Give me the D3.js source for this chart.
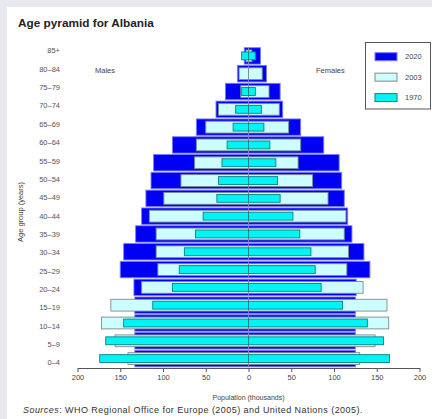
<!DOCTYPE html>
<html>
<head>
<meta charset="utf-8">
<script src="https://d3js.org/d3.v7.min.js"></script>
<style>
  body { margin: 0; background: #e6eaee; }
  text { font-family: "Liberation Sans", Arial, sans-serif; }
</style>
</head>
<body>
<div id="chart"></div>
<script>
// age groups, youngest first
const ageGroups = ['0–4', '5–9', '10–14', '15–19', '20–24', '25–29', '30–34', '35–39', '40–44',
  '45–49', '50–54', '55–59', '60–64', '65–69', '70–74', '75–79', '80–84', '85+'];

// population in thousands
const males2020   = [133, 133, 133, 133, 134, 150, 146, 132, 125, 120, 114, 111, 89, 61, 38, 27, 13, 5];
const females2020 = [125, 125, 125, 125, 126, 142, 135, 121, 116, 112, 109, 106, 88, 61, 40, 37, 21, 14];
const males2003   = [141, 156, 172, 161, 125, 106, 108, 108, 116, 99, 79, 63, 61, 50, 35, 9, 11, 3];
const females2003 = [130, 148, 164, 162, 134, 115, 117, 112, 114, 93, 75, 58, 61, 47, 36, 24, 16, 4];
const males1970   = [174, 167, 146, 112, 89, 81, 75, 62, 53, 37, 35, 31, 25, 18, 15, 8, 0, 8];
const females1970 = [165, 158, 139, 110, 85, 78, 73, 60, 52, 37, 34, 32, 25, 18, 15, 8, 0, 8];

const xTicks = [-200, -150, -100, -50, 0, 50, 100, 150, 200];

const series = [
  { year: '2020', males: males2020, females: females2020, fill: '#0000f2', stroke: '#7b7bff', frac: 1 },
  { year: '2003', males: males2003, females: females2003, fill: '#ccfdff', stroke: '#7f8a8c', frac: 0.72 },
  { year: '1970', males: males1970, females: females1970, fill: '#00f4f4', stroke: '#0f7f7f', frac: 0.48 }
];

const width = 432;
const height = 419;

const svg = d3.select('#chart')
  .append('svg')
  .attr('width', width)
  .attr('height', height);

// white panel on the grey page
svg.append('rect')
  .attr('x', 7).attr('y', 7)
  .attr('width', width - 7).attr('height', height - 7)
  .attr('fill', '#fff');

const x = d3.scaleLinear().domain([-200, 200]).range([77.5, 419.5]);
const y = d3.scaleBand()
  .domain(ageGroups.slice().reverse())
  .range([47, 367.5])
  .paddingInner(0.08)
  .paddingOuter(0.04);

// bars: 2020 at the back, 1970 in front
series.forEach(s => {
  const h = y.bandwidth() * s.frac;
  const rows = [];
  ageGroups.forEach((age, i) => {
    rows.push({ age, v: -s.males[i] });
    rows.push({ age, v: s.females[i] });
  });
  svg.append('g')
    .selectAll('rect')
    .data(rows.filter(d => d.v !== 0))
    .enter()
    .append('rect')
    .attr('x', d => Math.min(x(0), x(d.v)))
    .attr('width', d => Math.abs(x(d.v) - x(0)))
    .attr('y', d => y(d.age) + (y.bandwidth() - h) / 2)
    .attr('height', h)
    .attr('fill', s.fill)
    .attr('stroke', s.stroke)
    .attr('stroke-width', 0.9);
});

// x axis
const xAxis = d3.axisBottom(x)
  .tickValues(xTicks)
  .tickFormat(d => Math.abs(d))
  .tickSize(4)
  .tickSizeOuter(0)
  .tickPadding(3);

svg.append('g')
  .attr('transform', 'translate(0,368)')
  .call(xAxis)
  .call(g => g.selectAll('path, line').attr('stroke', '#555'))
  .call(g => g.selectAll('text')
    .attr('font-size', 7.5)
    .attr('font-family', '"Liberation Sans", Arial, sans-serif')
    .attr('fill', '#444'));

// age labels sit on their own slightly wider spacing
const yLab = d3.scalePoint().domain(ageGroups.slice().reverse()).range([50.5, 362.5]);

svg.append('g')
  .attr('transform', 'translate(60,0)')
  .call(d3.axisLeft(yLab).tickSize(0).tickPadding(0))
  .call(g => g.select('.domain').remove())
  .call(g => g.selectAll('text')
    .attr('font-size', 7.5)
    .attr('font-family', '"Liberation Sans", Arial, sans-serif')
    .attr('fill', '#555'));

// titles and notes
svg.append('text')
  .attr('x', 18).attr('y', 26.5)
  .attr('font-size', 11.8)
  .attr('font-weight', 'bold')
  .attr('fill', '#222')
  .text('Age pyramid for Albania');

svg.append('text')
  .attr('x', 95).attr('y', 72.5)
  .attr('font-size', 7.5)
  .attr('fill', '#444')
  .text('Males');

svg.append('text')
  .attr('x', 316).attr('y', 72.5)
  .attr('font-size', 7.5)
  .attr('fill', '#444')
  .text('Females');

svg.append('text')
  .attr('x', x(0)).attr('y', 399.5)
  .attr('text-anchor', 'middle')
  .attr('font-size', 7)
  .attr('fill', '#444')
  .text('Population (thousands)');

svg.append('text')
  .attr('transform', 'translate(22.5,212) rotate(-90)')
  .attr('text-anchor', 'middle')
  .attr('font-size', 7.5)
  .attr('fill', '#444')
  .text('Age group (years)');

const src = svg.append('text')
  .attr('x', 23).attr('y', 412.5)
  .attr('font-size', 9)
  .attr('letter-spacing', 0.45)
  .attr('fill', '#333');
src.append('tspan').attr('font-style', 'italic').text('Sources');
src.append('tspan').text(': WHO Regional Office for Europe (2005) and United Nations (2005).');

// legend
const legend = svg.append('g');
legend.append('rect')
  .attr('x', 365.5).attr('y', 42.5)
  .attr('width', 65).attr('height', 66.5)
  .attr('fill', '#fff')
  .attr('stroke', '#555');

const ly = d3.scalePoint().domain(series.map(s => s.year)).range([56.7, 97.6]);

legend.selectAll('rect.key')
  .data(series)
  .enter()
  .append('rect')
  .attr('class', 'key')
  .attr('x', 375).attr('width', 22)
  .attr('y', d => ly(d.year) - 4).attr('height', 8)
  .attr('fill', d => d.fill)
  .attr('stroke', d => d.stroke);

legend.selectAll('text')
  .data(series)
  .enter()
  .append('text')
  .attr('x', 405)
  .attr('y', d => ly(d.year))
  .attr('dy', '0.35em')
  .attr('font-size', 7.5)
  .attr('fill', '#444')
  .text(d => d.year);
</script>
</body>
</html>
